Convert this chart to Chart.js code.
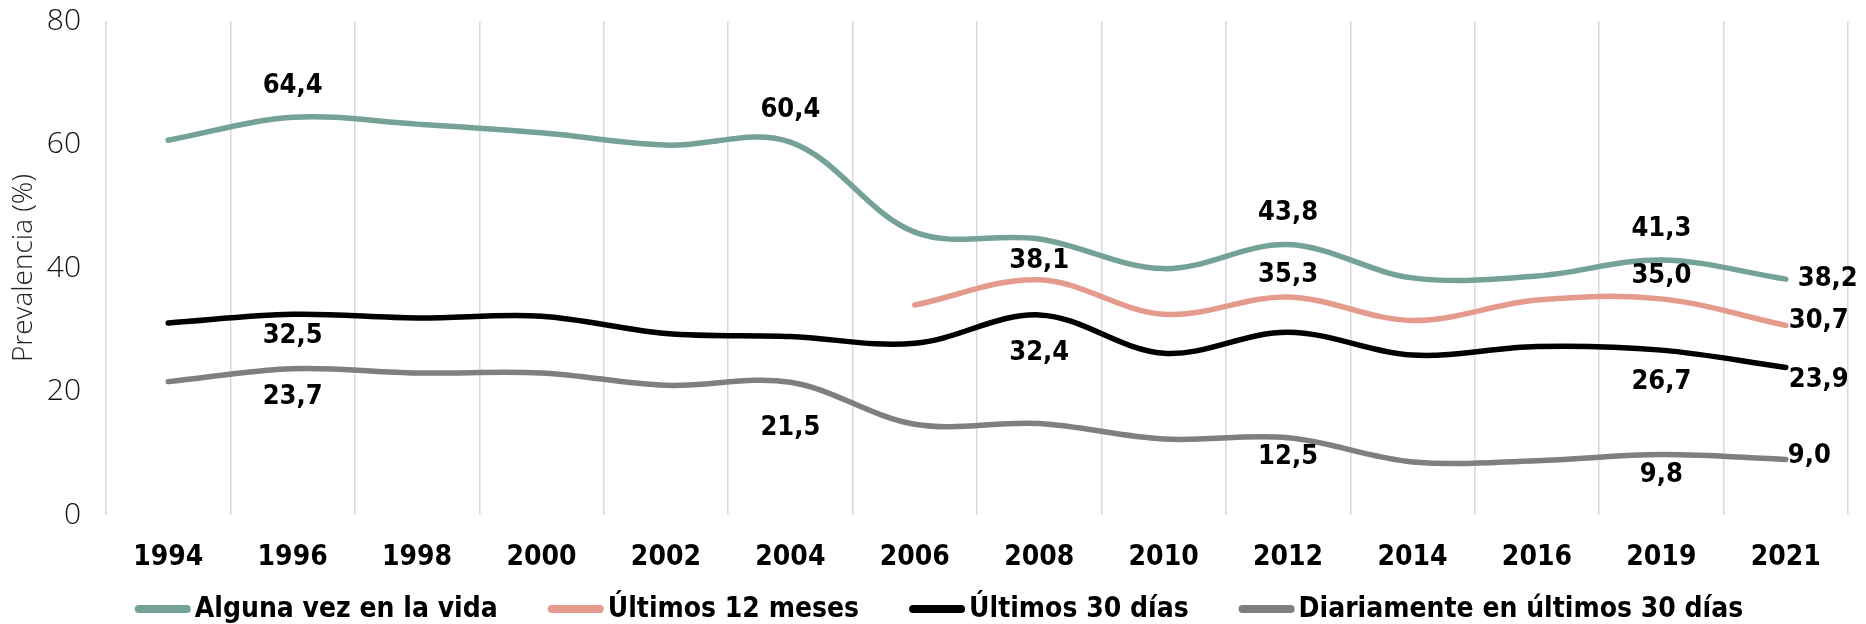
<!DOCTYPE html>
<html>
<head>
<meta charset="utf-8">
<script src="https://cdn.jsdelivr.net/npm/chart.js@4.4.1/dist/chart.umd.min.js"></script>
<style>
html,body{margin:0;padding:0;background:#fff;}
#wrap{width:1866px;height:624px;position:relative;}
</style>
</head>
<body>
<div id="wrap"><canvas id="c"></canvas></div>
<script>
const categories = ['1994','1996','1998','2000','2002','2004','2006','2008','2010','2012','2014','2016','2019','2021'];
const seriesNames = ['Alguna vez en la vida','Últimos 12 meses','Últimos 30 días','Diariamente en últimos 30 días'];
const algunaVez = [60.7, 64.4, 63.3, 61.9, 59.9, 60.4, 45.8, 44.7, 39.9, 43.8, 38.4, 38.7, 41.3, 38.2];
const ultimos12 = [null, null, null, null, null, null, 34.0, 38.1, 32.5, 35.3, 31.5, 34.8, 35.0, 30.7];
const ultimos30 = [31.1, 32.5, 31.9, 32.2, 29.4, 28.9, 27.8, 32.4, 26.2, 29.6, 25.9, 27.3, 26.7, 23.9];
const diariamente = [21.6, 23.7, 23.0, 23.0, 21.0, 21.5, 14.7, 14.8, 12.3, 12.5, 8.6, 8.8, 9.8, 9.0];
const yTicks = [0, 20, 40, 60, 80];
const colors = ['#74A298', '#E59A8E', '#000000', '#7F7F7F'];

// which points carry a value label: [series, category index, dx, dy, align]
const labelPlacement = [
  [0, 1, 0, -31, 'center'], [0, 5, 0, -32, 'center'], [0, 9, 0, -32, 'center'], [0, 12, 0, -31, 'center'], [0, 13, 12, 0, 'left'],
  [1, 7, 0, -19, 'center'], [1, 9, 0, -22, 'center'], [1, 12, 0, -23, 'center'], [1, 13, 3, -4, 'left'],
  [2, 1, 0, 22, 'center'], [2, 7, 0, 38, 'center'], [2, 12, 0, 32, 'center'], [2, 13, 3, 13, 'left'],
  [3, 1, 0, 28, 'center'], [3, 5, 0, 46, 'center'], [3, 9, 0, 19, 'center'], [3, 12, 0, 20, 'center'], [3, 13, 2, -3, 'left']
];

const boldFamily = "'DejaVu Sans Condensed', 'Liberation Sans Narrow', 'Roboto Condensed', 'DejaVu Sans', sans-serif";
const lightFamily = "'Open Sans', 'Noto Sans', sans-serif";

const valueLabels = {
  id: 'valueLabels',
  afterDatasetsDraw(chart) {
    const ctx = chart.ctx;
    ctx.save();
    ctx.font = "bold 27px " + boldFamily;
    ctx.fillStyle = '#000';
    ctx.textBaseline = 'middle';
    labelPlacement.forEach(([s, i, dx, dy, align]) => {
      const meta = chart.getDatasetMeta(s);
      const pt = meta.data[i];
      const v = chart.data.datasets[s].data[i];
      if (!pt || v == null) return;
      ctx.textAlign = align;
      ctx.fillText(v.toFixed(1).replace('.', ','), pt.x + dx, pt.y + dy);
    });
    ctx.restore();
  }
};

const bottomLegend = {
  id: 'bottomLegend',
  afterDraw(chart) {
    const ctx = chart.ctx;
    ctx.save();
    ctx.font = "bold 28px " + boldFamily;
    ctx.textBaseline = 'middle';
    ctx.textAlign = 'left';
    const lineLen = 56, gap = 4, spacing = 50;
    const items = chart.data.datasets.map(ds => ({ text: ds.label, color: ds.borderColor, w: ctx.measureText(ds.label).width }));
    const total = items.reduce((a, it) => a + lineLen + gap + it.w, 0) + spacing * (items.length - 1);
    let x = (chart.width - total) / 2 + 6;
    const y = chart.height - 15;
    items.forEach(it => {
      ctx.strokeStyle = it.color;
      ctx.lineWidth = 8;
      ctx.lineCap = 'round';
      ctx.beginPath();
      ctx.moveTo(x + 4, y);
      ctx.lineTo(x + lineLen - 4, y);
      ctx.stroke();
      ctx.fillStyle = '#000';
      ctx.fillText(it.text, x + lineLen + gap, y + 1);
      x += lineLen + gap + it.w + spacing;
    });
    ctx.restore();
  }
};

const allSeries = [algunaVez, ultimos12, ultimos30, diariamente];

new Chart(document.getElementById('c'), {
  type: 'line',
  data: {
    labels: categories,
    datasets: allSeries.map((d, k) => ({
      label: seriesNames[k],
      data: d,
      borderColor: colors[k],
      backgroundColor: colors[k],
      borderWidth: 5.5,
      borderCapStyle: 'round',
      borderJoinStyle: 'round',
      pointRadius: 0,
      pointHoverRadius: 0,
      tension: 0.35,
      fill: false,
      spanGaps: false
    }))
  },
  options: {
    responsive: true,
    maintainAspectRatio: false,
    animation: false,
    events: [],
    layout: { padding: { top: 21, right: 18, left: 0, bottom: 52 } },
    plugins: {
      tooltip: { enabled: false },
      legend: { display: false }
    },
    scales: {
      x: {
        offset: true,
        afterFit(axis) { axis.height = 57; axis.paddingLeft = 0; axis.paddingRight = 0; },
        grid: { display: true, offset: true, color: '#D9D9D9', lineWidth: 1.5, drawTicks: false },
        border: { display: false },
        ticks: {
          padding: 26,
          color: '#000',
          maxRotation: 0,
          autoSkip: false,
          font: { family: boldFamily, size: 28, weight: 'bold' }
        }
      },
      y: {
        min: yTicks[0],
        max: yTicks[yTicks.length - 1],
        afterBuildTicks(axis) { axis.ticks = yTicks.map(v => ({ value: v })); },
        afterFit(axis) { axis.width = 106; axis.paddingTop = 0; axis.paddingBottom = 0; },
        grid: { display: false, drawTicks: false },
        border: { display: false },
        ticks: {
          padding: 25,
          color: '#111',
          font: { family: lightFamily, size: 30, weight: '300' }
        },
        title: {
          display: true,
          text: 'Prevalencia (%)',
          color: '#222',
          padding: { top: 7, bottom: 0 },
          font: { family: lightFamily, size: 28, weight: '300' }
        }
      }
    }
  },
  plugins: [valueLabels, bottomLegend]
});
</script>
</body>
</html>
